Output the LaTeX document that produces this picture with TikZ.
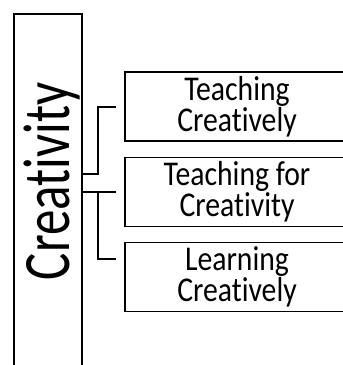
\documentclass[tikz,border=0pt]{standalone}
\usepackage{fontspec}
\setmainfont[Ligatures=NoCommon]{Carlito}
\newcommand{\boxtxt}[1]{\scalebox{1}[1.17]{\parbox{220pt}{\centering\fontsize{29.7}{26.5}\selectfont\lineskiplimit=-100pt #1}}}
\begin{document}
\begin{tikzpicture}[x=1pt,y=-1pt,
  frame/.style={draw=black,line width=1.8pt},
  subbox/.style={frame,minimum width=224pt,minimum height=69pt,inner sep=0pt},
  conn/.style={draw=black,line width=1.8pt}]
\useasboundingbox (0,0) rectangle (343,365);
\node[frame,minimum width=68pt,minimum height=400pt,inner sep=0pt,anchor=north west] (big) at (13,13) {};
\node[rotate=90,anchor=base,inner sep=0pt,font=\fontsize{51}{52}\selectfont] (lbl) at (70,181.5) {\scalebox{1}[1.3]{Creativity}};
\node[subbox] (t1) at (237,106.5) {\boxtxt{Teaching\\Creatively}};
\node[subbox] (t2) at (237,192) {\boxtxt{Teaching for\\Creativity}};
\node[subbox] (t3) at (237,277) {\boxtxt{Learning\\Creatively}};
\coordinate (e1) at (116,107);
\coordinate (e2) at (116,192);
\coordinate (e3) at (116,259);
\coordinate (j1) at (98,174);
\coordinate (j2) at (98,192);
\draw[conn] (big.east |- j1) -- (j1) |- (e1);
\draw[conn] (big.east |- e2) -- (e2);
\draw[conn] (j2) |- (e3);
\end{tikzpicture}
\end{document}
